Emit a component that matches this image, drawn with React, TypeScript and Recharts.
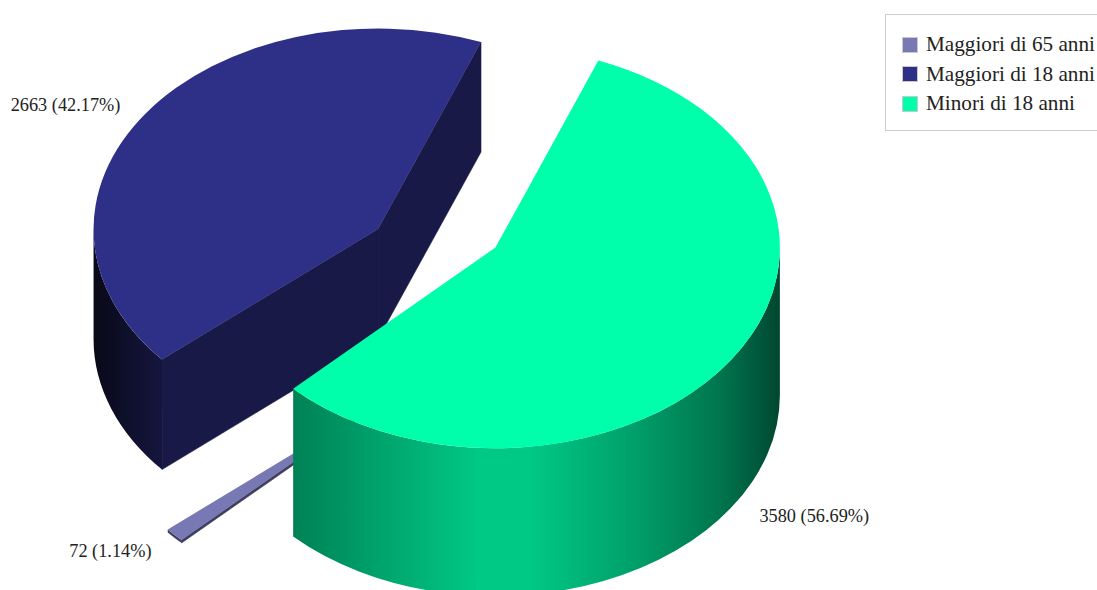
import { PieChart, Pie, Legend } from "recharts"

const CATEGORIES = ["Maggiori di 65 anni", "Maggiori di 18 anni", "Minori di 18 anni"]
const VALUES = [72, 2663, 3580]
const COLORS = ["#7878b4", "#2e3087", "#00ffaa"]

const SERIF = '"Liberation Serif", serif'
const TILT = 0.705 // vertical squash of the pie plane
const EXPLODE = 71 // how far each slice moves out from the centre
const DEPTH_PER_UNIT = 0.0413 // slice height grows with its value
const WALL_SHADES: [number, number][] = [
  [0, 0.18],
  [0.14, 0.5],
  [0.47, 0.79],
  [0.56, 0.79],
  [0.75, 0.62],
  [0.9, 0.45],
  [1, 0.28],
]

const chartData = CATEGORIES.map((name, i) => ({ name, value: VALUES[i], fill: COLORS[i] }))

const RAD = Math.PI / 180

function shade(hex: string, factor: number) {
  const channel = (at: number) => Math.round(parseInt(hex.slice(at, at + 2), 16) * factor)
  return `rgb(${channel(1)},${channel(3)},${channel(5)})`
}

// Centre of the slice's top face once exploded and lifted by its height
function sliceTop(cx: number, cy: number, midAngle: number, value: number) {
  const depth = value * DEPTH_PER_UNIT
  return {
    depth,
    x: cx + EXPLODE * Math.cos(midAngle * RAD),
    y: cy - EXPLODE * TILT * Math.sin(midAngle * RAD) - depth,
  }
}

// Part of the slice's rim that faces the viewer, as [from, to] with from > to
function frontRange(startAngle: number, endAngle: number): [number, number] | null {
  for (const [hi, lo] of [[360, 180], [0, -180]]) {
    const from = Math.min(startAngle, hi)
    const to = Math.max(endAngle, lo)
    if (from > to) return [from, to]
  }
  return null
}

function Slice3D(props: any) {
  const { cx, cy, outerRadius, startAngle, endAngle, midAngle, value, fill, index } = props
  const top = sliceTop(cx, cy, midAngle, value)
  const rx = outerRadius
  const ry = outerRadius * TILT
  const px = (a: number) => top.x + rx * Math.cos(a * RAD)
  const py = (a: number) => top.y - ry * Math.sin(a * RAD)
  const d = top.depth
  const side = shade(fill, 0.52)

  const radial = (a: number) =>
    `M${top.x},${top.y} L${px(a)},${py(a)} L${px(a)},${py(a) + d} L${top.x},${top.y + d} Z`

  const large = startAngle - endAngle > 180 ? 1 : 0
  const face = `M${top.x},${top.y} L${px(startAngle)},${py(startAngle)} A${rx},${ry} 0 ${large} 1 ${px(endAngle)},${py(endAngle)} Z`

  const front = frontRange(startAngle, endAngle)
  const gradientId = `wall-${index}`

  // The cut faces only show when they turn towards the viewer
  const showStart = Math.cos(startAngle * RAD) < 0
  const showEnd = Math.cos(endAngle * RAD) > 0

  return (
    <g>
      <defs>
        <linearGradient id={gradientId} gradientUnits="userSpaceOnUse" x1={top.x - rx} y1={0} x2={top.x + rx} y2={0}>
          {WALL_SHADES.map(([offset, factor]) => (
            <stop key={offset} offset={offset} stopColor={shade(fill, factor)} />
          ))}
        </linearGradient>
      </defs>
      {showStart && <path d={radial(startAngle)} fill={side} stroke={side} strokeWidth={0.6} />}
      {showEnd && <path d={radial(endAngle)} fill={side} stroke={side} strokeWidth={0.6} />}
      {front && (
        <path
          d={`M${px(front[0])},${py(front[0])} A${rx},${ry} 0 0 1 ${px(front[1])},${py(front[1])} L${px(front[1])},${py(front[1]) + d} A${rx},${ry} 0 0 0 ${px(front[0])},${py(front[0]) + d} Z`}
          fill={d < 10 ? side : `url(#${gradientId})`}
        />
      )}
      <path d={face} fill={fill} />
    </g>
  )
}

function SliceLabel(props: any) {
  const { cx, cy, outerRadius, midAngle, value, percent } = props
  const top = sliceTop(cx, cy, midAngle, value)
  const cos = Math.cos(midAngle * RAD)
  const sin = Math.sin(midAngle * RAD)
  const x = top.x + outerRadius * 1.11 * cos
  const y = top.y - outerRadius * TILT * 1.1 * sin + (sin < 0 ? top.depth + 1 : 5)
  return (
    <text
      x={x}
      y={y}
      textAnchor={cos > 0 ? "start" : "end"}
      dominantBaseline="middle"
      fontFamily={SERIF}
      fontSize={18.3}
      fill="#222"
    >
      {`${value} (${(percent * 100).toFixed(2)}%)`}
    </text>
  )
}

function LegendBox({ payload }: any) {
  return (
    <div
      style={{
        boxSizing: "border-box",
        width: "100%",
        height: "100%",
        border: "1.5px solid #cccccc",
        background: "#fff",
        paddingTop: 15,
        paddingLeft: 16,
        fontFamily: SERIF,
        fontSize: 21.2,
        color: "#222",
      }}
    >
      {(payload ?? []).map((entry: any) => (
        <div key={entry.value} style={{ display: "flex", alignItems: "center", height: 29.5, whiteSpace: "nowrap" }}>
          <span
            style={{
              boxSizing: "border-box",
              width: 16,
              height: 16,
              marginRight: 8,
              background: entry.color,
              border: "1px solid #c8c8c8",
            }}
          />
          {entry.value}
        </div>
      ))}
    </div>
  )
}

export default function App() {
  return (
    <div style={{ position: "fixed", left: 0, top: 0, width: 1097, height: 590, overflow: "hidden", background: "#fff" }}>
      <PieChart width={1097} height={590} margin={{ top: 0, right: 0, bottom: 0, left: 0 }}>
        <Pie
          data={chartData}
          dataKey="value"
          nameKey="name"
          cx={436}
          cy={368}
          outerRadius={284.5}
          startAngle={224.7}
          endAngle={-135.3}
          shape={Slice3D}
          label={SliceLabel}
          labelLine={false}
          isAnimationActive={false}
        />
        <Legend
          content={LegendBox}
          itemSorter={null}
          wrapperStyle={{ left: 885, top: 14, width: 240, height: 117, right: "auto", bottom: "auto" }}
        />
      </PieChart>
    </div>
  )
}
